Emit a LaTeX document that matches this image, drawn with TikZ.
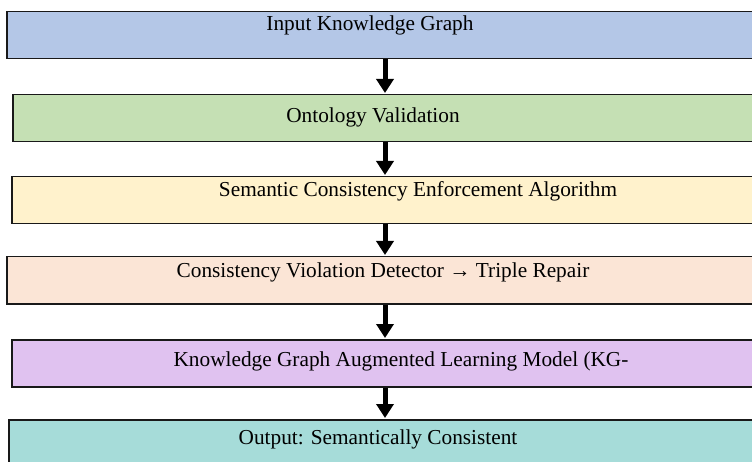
\documentclass[tikz,border=0pt]{standalone}
\usepackage{fontspec}
\setmainfont{Liberation Serif}
\usetikzlibrary{arrows.meta}
\definecolor{kgblue}{RGB}{180,199,231}
\definecolor{ontogreen}{RGB}{197,224,180}
\definecolor{algoyellow}{RGB}{255,242,204}
\definecolor{repairpeach}{RGB}{251,229,214}
\definecolor{modelviolet}{RGB}{224,194,240}
\definecolor{outteal}{RGB}{166,220,217}

\begin{document}
\begin{tikzpicture}[
    x=1pt, y=-1pt,
    stage/.style={
        rectangle, fill=#1, draw=black!90, line width=1.5pt,
        minimum height=47pt, anchor=north west, inner sep=0pt,
    },
    caption/.style={anchor=base, inner sep=0pt, font=\fontsize{21.3}{25}\selectfont},
    flow/.style={-{Triangle[width=17pt,length=14pt]}, line width=5pt, draw=black, shorten >=1pt},
]

% --- Page frame, boxes run off the right edge ---
\clip (0,0) rectangle (752,462);

% --- Stage boxes, top to bottom ---
\node[stage=kgblue,      minimum width=754pt] (input)  at (6,11)   {};
\node[stage=ontogreen,   minimum width=748pt] (onto)   at (12,94)  {};
\node[stage=algoyellow,  minimum width=749pt] (algo)   at (11,176) {};
\node[stage=repairpeach, minimum width=754pt] (repair) at (6,256)  {};
\node[stage=modelviolet, minimum width=749pt] (model)  at (11,339) {};
\node[stage=outteal,     minimum width=752pt, minimum height=60pt] (output) at (8,419) {};

% --- Stage texts ---
\node[caption] (input-t)  at (370,30.5)  {Input Knowledge Graph};
\node[caption] (onto-t)   at (373,122.7) {Ontology Validation};
\node[caption] (algo-t)   at (418,196.7) {Semantic Consistency Enforcement Algorithm};
\node[caption] (repair-t) at (383,277.3) {Consistency Violation Detector → Triple Repair};
\node[caption] (model-t)  at (401,366.7) {Knowledge Graph Augmented Learning Model (KG-};
\node[caption] (output-t) at (378,444.3) {Output: Semantically Consistent};

% --- Arrows down the spine ---
\coordinate (spine) at (385,0);
\draw[flow] (input.south -| spine)  -- (onto.north -| spine);
\draw[flow] (onto.south -| spine)   -- (algo.north -| spine);
\draw[flow] (algo.south -| spine)   -- (repair.north -| spine);
\draw[flow] (repair.south -| spine) -- (model.north -| spine);
\draw[flow] (model.south -| spine)  -- (output.north -| spine);

\end{tikzpicture}
\end{document}
